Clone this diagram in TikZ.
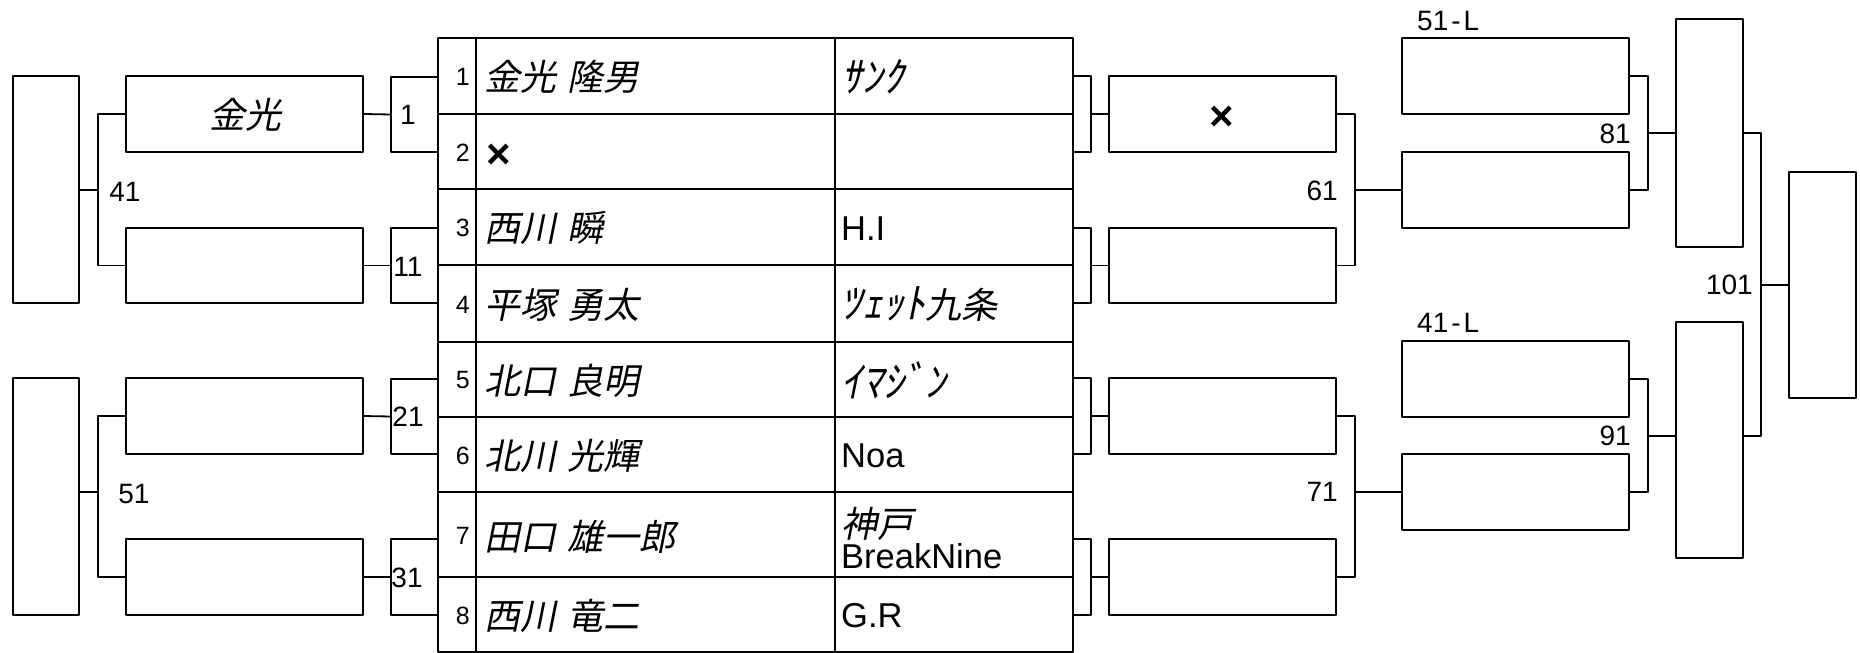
\documentclass[tikz,border=0pt]{standalone}
\usepackage{fontspec}
\setmainfont{Liberation Sans}
\newfontfamily\jpfont[FakeSlant=0.2]{Noto Sans CJK JP}
\usetikzlibrary{calc}
\newcommand\bx[5]{\node[rbox, minimum width={#4-#2}, minimum height={#5-#3}] (#1) at ({(#2+#4)/2},{(#3+#5)/2}) {};}
\newcommand\nsp{\hspace{0.3em}}
\newcommand\hk[1]{{\fontsize{42}{36}\selectfont #1}}
\begin{document}
\begin{tikzpicture}[x=1pt,y=-1pt,
  rbox/.style={draw, line width=2pt, inner sep=0pt, outer sep=0pt, line join=round},
  conn/.style={draw, line width=1.8pt, line join=round},
  nm/.style={font=\jpfont\fontsize{36}{36}\selectfont, inner sep=0pt},
  lat/.style={font=\fontsize{34.5}{34}\selectfont, inner sep=0pt},
  lbl/.style={font=\fontsize{28}{30}\selectfont, inner sep=0pt},
  rn/.style={font=\fontsize{25}{26}\selectfont, inner sep=0pt, anchor=east},
  xm/.style={font=\fontsize{42}{42}\selectfont\bfseries, inner sep=0pt}]
\useasboundingbox (0,0) rectangle (1860,653);
\fill[white] (0,0) rectangle (1860,653);

% left side boxes
\bx{L41}{13}{76}{79}{303}
\bx{L51}{13}{378}{79}{615}
\bx{K1}{126}{76}{363}{152}
\bx{K2}{126}{228}{363}{303}
\bx{K3}{126}{378}{363}{454}
\bx{K4}{126}{539}{363}{615}
\bx{B1}{391}{77}{438}{152}
\bx{B2}{391}{228}{438}{303}
\bx{B3}{391}{379}{438}{454}
\bx{B4}{391}{539}{438}{615}

% table
\newcommand\trow[3]{%
  \bx{n#1}{438}{#2}{476}{#3}
  \bx{p#1}{476}{#2}{835}{#3}
  \bx{t#1}{835}{#2}{1073}{#3}
  \node[rn] (nl#1) at ($(n#1.east)+(-6,1)$) {#1};}
\trow{1}{38}{114}
\trow{2}{114}{189}
\trow{3}{189}{265}
\trow{4}{265}{342}
\trow{5}{342}{417}
\trow{6}{417}{492}
\trow{7}{492}{577}
\trow{8}{577}{652}

\node[nm, anchor=west] (pl1) at ($(p1.west)+(8,1)$) {金光\nsp 隆男};
\node[xm] (pl2) at (499,156) {×};
\node[nm, anchor=west] (pl3) at ($(p3.west)+(8,1)$) {西川\nsp 瞬};
\node[nm, anchor=west] (pl4) at ($(p4.west)+(8,1)$) {平塚\nsp 勇太};
\node[nm, anchor=west] (pl5) at ($(p5.west)+(8,1)$) {北口\nsp 良明};
\node[nm, anchor=west] (pl6) at ($(p6.west)+(8,1)$) {北川\nsp 光輝};
\node[nm, anchor=west] (pl7) at ($(p7.west)+(8,2)$) {田口\nsp 雄一郎};
\node[nm, anchor=west] (pl8) at ($(p8.west)+(8,1)$) {西川\nsp 竜二};

\node[nm, anchor=west] (tl1) at ($(t1.west)+(6,1)$) {\hk{ｻﾝｸ}};
\node[lat, anchor=west] (tl3) at ($(t3.west)+(6,2)$) {H.I};
\node[nm, anchor=west] (tl4) at ($(t4.west)+(6,1)$) {\hk{ﾂｪｯﾄ}九条};
\node[nm, anchor=west] (tl5) at ($(t5.west)+(6,1)$) {\hk{ｲﾏｼﾞﾝ}};
\node[lat, anchor=west] (tl6) at ($(t6.west)+(6,1)$) {Noa};
\node[lat, anchor=west, align=left] (tl7) at ($(t7.west)+(6,4)$) {{\jpfont\fontsize{36}{34}\selectfont 神戸}\\[-3pt]BreakNine};
\node[lat, anchor=west] (tl8) at ($(t8.west)+(6,1)$) {G.R};

% right side boxes
\bx{C1}{1073}{76}{1091}{152}
\bx{C2}{1073}{228}{1091}{303}
\bx{C3}{1073}{378}{1091}{454}
\bx{C4}{1073}{539}{1091}{615}
\bx{R1}{1109}{76}{1336}{152}
\bx{R2}{1109}{228}{1336}{303}
\bx{R3}{1109}{378}{1336}{454}
\bx{R4}{1109}{539}{1336}{615}
\bx{S1}{1402}{38}{1629}{114}
\bx{S2}{1402}{152}{1629}{228}
\bx{S3}{1402}{341}{1629}{417}
\bx{S4}{1402}{454}{1629}{530}
\bx{T1}{1676}{19}{1743}{247}
\bx{T2}{1676}{322}{1743}{558}
\bx{F}{1789}{172}{1856}{398}

\node[nm] (K1t) at ($(K1.center)+(1,1)$) {金光};
\node[xm] (R1t) at (1222,118) {×};

% joints
\coordinate (j41) at (98,190);
\coordinate (j51) at (98,492);
\coordinate (j61) at (1355,190);
\coordinate (j71) at (1355,492);
\coordinate (j81) at (1648,133);
\coordinate (j91) at (1648,436);
\coordinate (j101) at (1761,285);

% connectors left
\draw[conn] (K1.west) -| (j41) -- (j41 -| L41.east);
\draw[conn] (K2.west) -| (j41);
\draw[conn] (K3.west) -| (j51) -- (j51 -| L51.east);
\draw[conn] (K4.west) -| (j51);
\draw[conn] (K1.east) -- (B1.west);
\draw[conn] (K2.east) -- (B2.west);
\draw[conn] (K3.east) -- (B3.west);
\draw[conn] (K4.east) -- (B4.west);

% connectors right
\draw[conn] (C1.east) -- (R1.west);
\draw[conn] (C2.east) -- (R2.west);
\draw[conn] (C3.east) -- (R3.west);
\draw[conn] (C4.east) -- (R4.west);
\draw[conn] (R1.east) -| (j61) -- (S2.west);
\draw[conn] (R2.east) -| (j61);
\draw[conn] (R3.east) -| (j71) -- (S4.west);
\draw[conn] (R4.east) -| (j71);
\draw[conn] (S1.east) -| (j81) -- (T1.west);
\draw[conn] (S2.east) -| (j81);
\draw[conn] (S3.east) -| (j91) -- (j91 -| T2.west);
\draw[conn] (S4.east) -| (j91);
\draw[conn] (T1.east) -| (j101) -- (F.west);
\draw[conn] (j91 -| T2.east) -| (j101);

% labels
\node[lbl] (lb1) at (408,115) {1};
\node[lbl] (lb11) at (408,267) {11};
\node[lbl] (lb21) at (408,417) {21};
\node[lbl] (lb31) at (407,578) {31};
\node[lbl] (lb41) at (125,192) {41};
\node[lbl] (lb51) at (134,494) {51};
\node[lbl, anchor=east] (lb61) at (1338,191) {61};
\node[lbl, anchor=east] (lb71) at (1338,492) {71};
\node[lbl, anchor=east] (lb81) at (1631,134) {81};
\node[lbl, anchor=east] (lb91) at (1631,436) {91};
\node[lbl, anchor=east] (lb101) at (1753,285) {101};
\node[lbl, anchor=west] (l51L) at (1417,21) {51\kern3pt-\kern3pt L};
\node[lbl, anchor=west] (l41L) at (1417,323) {41\kern3pt-\kern3pt L};
\end{tikzpicture}
\end{document}
